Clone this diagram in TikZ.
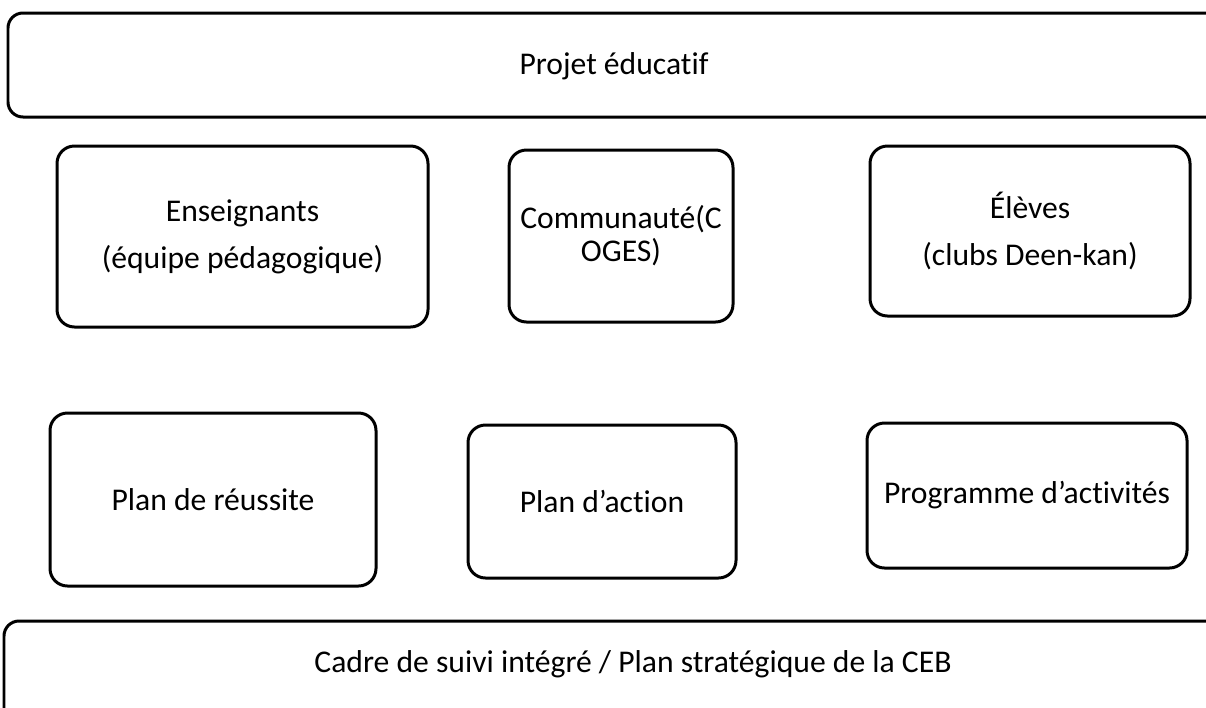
\documentclass[tikz,border=0pt]{standalone}
\usepackage{fontspec}
\setmainfont[Ligatures=NoCommon]{Carlito}
\usetikzlibrary{positioning}

\begin{document}
\begin{tikzpicture}[x=0.02cm, y=-0.02cm]

\tikzset{%
    every box/.style = {
        draw,
        rounded corners=0.35cm,
        line width=0.06cm,
        align=center,
        inner sep=0pt,
        font=\fontsize{18}{26.8}\selectfont
    },
    band/.style = {
        draw,
        rounded corners=0.3cm,
        line width=0.06cm
    },
    band text/.style = {
        font=\fontsize{18}{26.8}\selectfont
    }
}

\useasboundingbox (0,0) rectangle (1206,707);

% top and bottom bands
\draw [band] (8,13) rectangle (1260,117);
\node [band text] (projet) at (614,66) {Projet éducatif};

\draw [band] (4,621) rectangle (1260,780);
\node [band text] (cadre) at (633,664) {Cadre de suivi intégré / Plan stratégique de la CEB};

% actors
\foreach \n/\x/\y/\w/\h/\t in {%
    ens/242.5/236.5/371/181/{Enseignants\\(équipe pédagogique)},
    com/621/236/224/172/{Communauté(C\\[-0.28cm]OGES)},
    eleves/1030/231/320/170/{Élèves\\(clubs Deen-kan)}}
  \node [every box, minimum width=\w*0.02cm, minimum height=\h*0.02cm] (\n) at (\x,\y) {\t};

% plans
\foreach \n/\x/\y/\w/\h/\t in {%
    reussite/213/499.5/326/173/{Plan de réussite},
    action/602/501.5/268/153/{Plan d’action},
    programme/1027/495.5/320/145/{Programme d’activités}}
  \node [every box, minimum width=\w*0.02cm, minimum height=\h*0.02cm] (\n) at (\x,\y) {\t};

\end{tikzpicture}
\end{document}
